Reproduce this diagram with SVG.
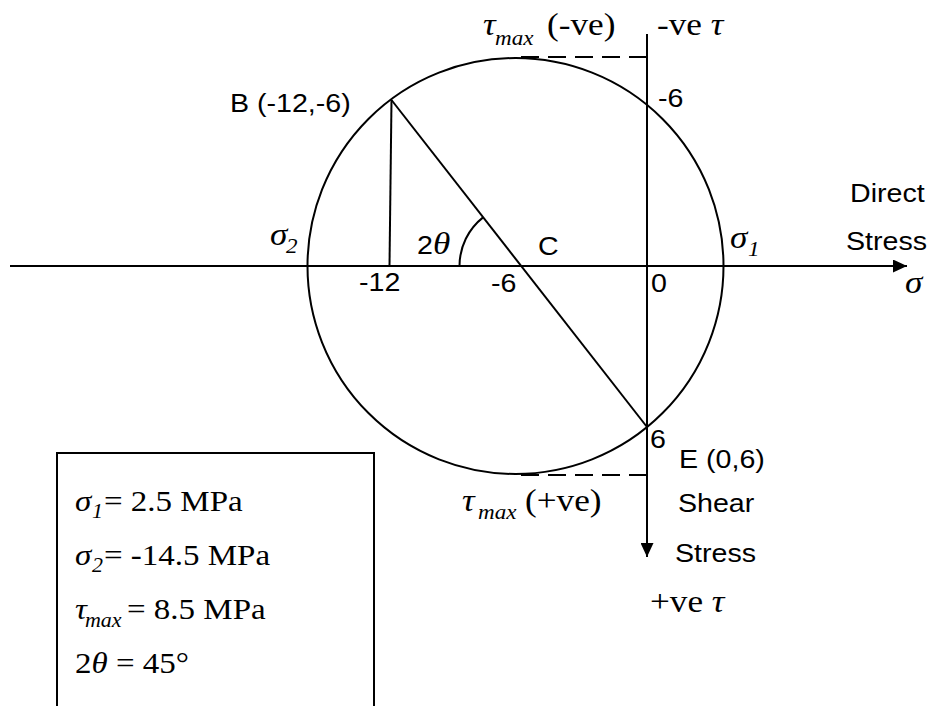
<svg xmlns="http://www.w3.org/2000/svg" width="930" height="706" viewBox="0 0 930 706">
<style>
.ln{stroke:#000;stroke-width:2;fill:none}
.dash{stroke:#000;stroke-width:2;fill:none;stroke-dasharray:18 9}
.sans{font-family:"Liberation Sans",Arial,sans-serif;font-size:26px;fill:#000}
.ser{font-family:"Liberation Serif","Times New Roman",serif;font-size:32px;fill:#000}
.box{font-family:"Liberation Serif","Times New Roman",serif;font-size:30px;fill:#000}
.it{font-style:italic}
.sub{font-style:italic;font-size:21px}
.subb{font-style:italic;font-size:20px}
</style>
<defs>
<marker id="arr" markerUnits="userSpaceOnUse" markerWidth="15" markerHeight="13" refX="14" refY="6.5" orient="auto">
<path d="M0,0 L14,6.5 L0,13 z" fill="#000"/>
</marker>
</defs>
<rect width="930" height="706" fill="#fff"/>
<g id="connectors">
<line class="ln" x1="10" y1="266" x2="907" y2="266" marker-end="url(#arr)"/>
<line class="ln" x1="647" y1="34" x2="647" y2="557" marker-end="url(#arr)"/>
<circle class="ln" cx="515.5" cy="266" r="208"/>
<line class="dash" x1="647" y1="57" x2="513" y2="57"/>
<line class="dash" x1="647" y1="475" x2="518" y2="475"/>
<line class="ln" x1="391.5" y1="100" x2="389.5" y2="266"/>
<line class="ln" x1="391.5" y1="100" x2="647" y2="427"/>
<path class="ln" d="M459.5,266 A62,62 0 0 1 483.4,217.1"/>
</g>
<rect id="results-frame" class="ln" x="57" y="453" width="317" height="270"/>
<g id="labels" transform="scale(1.1,1)">
<g id="tau-max-neg"><text class="ser"><tspan class="it" x="439.09" y="35">τ</tspan><tspan class="sub" x="450" y="45">max</tspan><tspan x="497.27" y="35">(-ve)</tspan></text></g>
<g id="neg-tau"><text class="ser" x="597.27" y="35">-ve <tspan class="it">τ</tspan></text></g>
<g id="point-B"><text class="sans" x="209.09" y="112">B (-12,-6)</text></g>
<g id="label-m6-top"><text class="sans" x="598.18" y="107">-6</text></g>
<g id="sigma2"><text class="ser"><tspan class="it" x="245.45" y="245">σ</tspan><tspan class="sub" x="260" y="253">2</tspan></text></g>
<g id="sigma1"><text class="ser"><tspan class="it" x="663.64" y="248">σ</tspan><tspan class="sub" x="680" y="256">1</tspan></text></g>
<g id="two-theta"><text y="254"><tspan class="sans" x="379.09">2</tspan><tspan class="ser it">θ</tspan></text></g>
<g id="C"><text class="sans" x="489.09" y="255">C</text></g>
<g id="tick-m12"><text class="sans" x="326.36" y="291">-12</text></g>
<g id="tick-m6"><text class="sans" x="446.36" y="292">-6</text></g>
<g id="tick-0"><text class="sans" x="591.82" y="292">0</text></g>
<g id="direct-stress"><text class="sans" x="772.73" y="202">Direct</text><text class="sans" x="769.09" y="250">Stress</text></g>
<g id="sigma-axis"><text class="ser it" x="822.73" y="293">σ</text></g>
<g id="label-6"><text class="sans" x="590.91" y="448">6</text></g>
<g id="point-E"><text class="sans" x="617.27" y="468">E (0,6)</text></g>
<g id="tau-max-pos"><text class="ser"><tspan class="it" x="420" y="511">τ</tspan><tspan class="sub" x="434.55" y="519">max</tspan><tspan x="477.27" y="511">(+ve)</tspan></text></g>
<g id="shear-stress"><text class="sans" x="616.36" y="512">Shear</text><text class="sans" x="613.64" y="562">Stress</text></g>
<g id="pos-tau"><text class="ser" x="590.91" y="612">+ve <tspan class="it">τ</tspan></text></g>
<g id="results-box">
<text class="box"><tspan class="it" x="68.18" y="511">σ</tspan><tspan class="subb" x="83.64" y="518">1</tspan><tspan x="94.55" y="511">= 2.5 MPa</tspan></text>
<text class="box"><tspan class="it" x="68.18" y="565">σ</tspan><tspan class="subb" x="83.64" y="572">2</tspan><tspan x="94.55" y="565">= -14.5 MPa</tspan></text>
<text class="box"><tspan class="it" x="68.18" y="619">τ</tspan><tspan class="subb" x="77.27" y="627">max</tspan><tspan x="115.45" y="619">= 8.5 MPa</tspan></text>
<text class="box" x="68.18" y="673">2<tspan class="it">θ</tspan> = 45°</text>
</g>
</g>
</svg>
